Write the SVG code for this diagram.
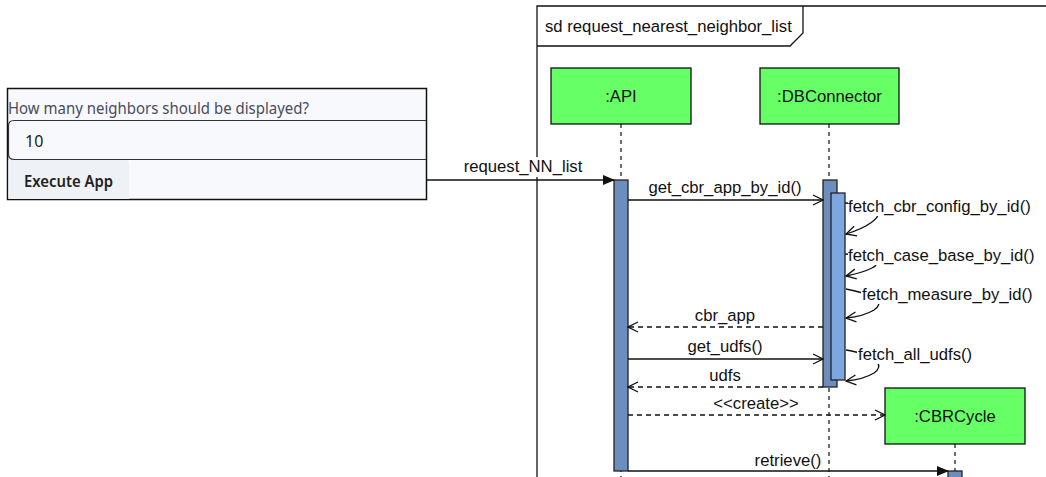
<svg xmlns="http://www.w3.org/2000/svg" width="1046" height="477" viewBox="0 0 1046 477">
  <style>
    .t { font-family: "Liberation Sans", Arial, sans-serif; font-size: 16.7px; fill: #111; }
    .mid { text-anchor: middle; }
    .ui { font-family: "Noto Sans", "Open Sans", sans-serif; font-size: 16px; }
    .life { stroke: #222; stroke-width: 1.3; stroke-dasharray: 4 4; fill: none; }
    .obj { fill: #66ff66; stroke: #111; stroke-width: 1.3; }
    .act { fill: #6c8ebf; stroke: #222; stroke-width: 1.3; }
    .act2 { fill: #7ea6e0; stroke: #222; stroke-width: 1.3; }
    .msg { stroke: #111; stroke-width: 1.3; fill: none; }
    .ret { stroke: #111; stroke-width: 1.3; fill: none; stroke-dasharray: 5 4; }
    .lblbg { fill: #ffffff; }
  </style>
  <defs>
    <marker id="open" viewBox="0 0 12 12" refX="11" refY="6" markerWidth="12" markerHeight="12" markerUnits="userSpaceOnUse" orient="auto">
      <path d="M1,1 L11,6 L1,11" fill="none" stroke="#111" stroke-width="1.3"/>
    </marker>
    <marker id="solid" viewBox="0 0 12 12" refX="11" refY="6" markerWidth="12" markerHeight="12" markerUnits="userSpaceOnUse" orient="auto">
      <path d="M0,1 L12,6 L0,11 Z" fill="#111"/>
    </marker>
  </defs>

  <rect width="1046" height="477" fill="#ffffff"/>

  <!-- app input form -->
  <g id="app-form">
    <rect x="7.5" y="88.5" width="419" height="111" fill="#f8f9fd" stroke="#111" stroke-width="1.5"/>
    <text class="ui" x="8" y="114" fill="#4a4b5c" textLength="301" lengthAdjust="spacingAndGlyphs">How many neighbors should be displayed?</text>
    <path d="M426,120.5 H14 Q8.5,120.5 8.5,126 V154 Q8.5,159.5 14,159.5 H426" fill="none" stroke="#333" stroke-width="1.2"/>
    <text class="ui" x="25" y="147" fill="#222">10</text>
    <path d="M8.5,160 H125 Q129,160 129,164 V199 H8.5 Z" fill="#eef1f5"/>
    <text class="ui" x="24" y="187" fill="#222" font-weight="600" textLength="89" lengthAdjust="spacingAndGlyphs">Execute App</text>
  </g>

  <!-- sequence frame -->
  <g id="frame">
    <path d="M537,477 V6 H1046" fill="none" stroke="#111" stroke-width="1.3"/>
    <path d="M537,46 H790 L803,33 V6" fill="none" stroke="#111" stroke-width="1.3"/>
    <text class="t" x="545" y="32">sd request_nearest_neighbor_list</text>
  </g>

  <!-- lifelines -->
  <g id="api">
    <line class="life" x1="621" y1="124" x2="621" y2="477"/>
    <rect class="obj" x="551" y="68" width="140" height="56"/>
    <text class="t mid" x="621" y="102">:API</text>
    <rect class="act" x="614" y="180" width="14" height="291"/>
  </g>

  <g id="dbconnector">
    <line class="life" x1="829" y1="124" x2="829" y2="477"/>
    <rect class="obj" x="760" y="68" width="139" height="56"/>
    <text class="t mid" x="829.5" y="102">:DBConnector</text>
    <rect class="act" x="823" y="180" width="14" height="207"/>
    <rect class="act2" x="831" y="193" width="14" height="187"/>
  </g>

  <g id="cbrcycle">
    <line class="life" x1="955" y1="444" x2="955" y2="477"/>
    <rect class="obj" x="885" y="388" width="140" height="56"/>
    <text class="t mid" x="955" y="422">:CBRCycle</text>
    <rect class="act" x="948" y="471" width="14" height="12"/>
  </g>

  <!-- messages -->
  <g id="connectors">
    <line class="msg" x1="427" y1="180" x2="614" y2="180" marker-end="url(#solid)"/>
    <rect class="lblbg" x="462" y="157" width="124" height="20"/>
    <text class="t mid" x="523" y="172">request_NN_list</text>

    <line class="msg" x1="628" y1="200" x2="823" y2="200" marker-end="url(#open)"/>
    <text class="t mid" x="725" y="193">get_cbr_app_by_id()</text>

    <path class="msg" d="M845,203 C880,204 884,214 872,222 C864,228 856,231 846,234" marker-end="url(#open)"/>
    <rect class="lblbg" x="848" y="196" width="187" height="20"/>
    <text class="t" x="848" y="212">fetch_cbr_config_by_id()</text>

    <path class="msg" d="M845,254 C878,256 882,263 872,268 C864,272 856,274 846,276" marker-end="url(#open)"/>
    <rect class="lblbg" x="848" y="245" width="189" height="20"/>
    <text class="t" x="848" y="261">fetch_case_base_by_id()</text>

    <path class="msg" d="M846,289 C880,296 884,303 874,310 C866,315 856,317 846,318" marker-end="url(#open)"/>
    <rect class="lblbg" x="861" y="284" width="173" height="20"/>
    <text class="t" x="862" y="300">fetch_measure_by_id()</text>

    <path class="msg" d="M846,350 C880,356 884,366 874,373 C866,378 856,380 846,381" marker-end="url(#open)"/>
    <rect class="lblbg" x="857" y="344" width="117" height="20"/>
    <text class="t" x="858" y="360">fetch_all_udfs()</text>

    <line class="ret" x1="823" y1="327" x2="628" y2="327" marker-end="url(#open)"/>
    <text class="t mid" x="725" y="321">cbr_app</text>

    <line class="msg" x1="628" y1="359" x2="823" y2="359" marker-end="url(#open)"/>
    <text class="t mid" x="725" y="352">get_udfs()</text>

    <line class="ret" x1="823" y1="387" x2="628" y2="387" marker-end="url(#open)"/>
    <text class="t mid" x="725" y="381">udfs</text>

    <line class="ret" x1="628" y1="415" x2="885" y2="415" marker-end="url(#open)"/>
    <text class="t mid" x="756" y="409">&lt;&lt;create&gt;&gt;</text>

    <line class="msg" x1="628" y1="471" x2="948" y2="471" marker-end="url(#solid)"/>
    <text class="t mid" x="788" y="466">retrieve()</text>
  </g>
</svg>
